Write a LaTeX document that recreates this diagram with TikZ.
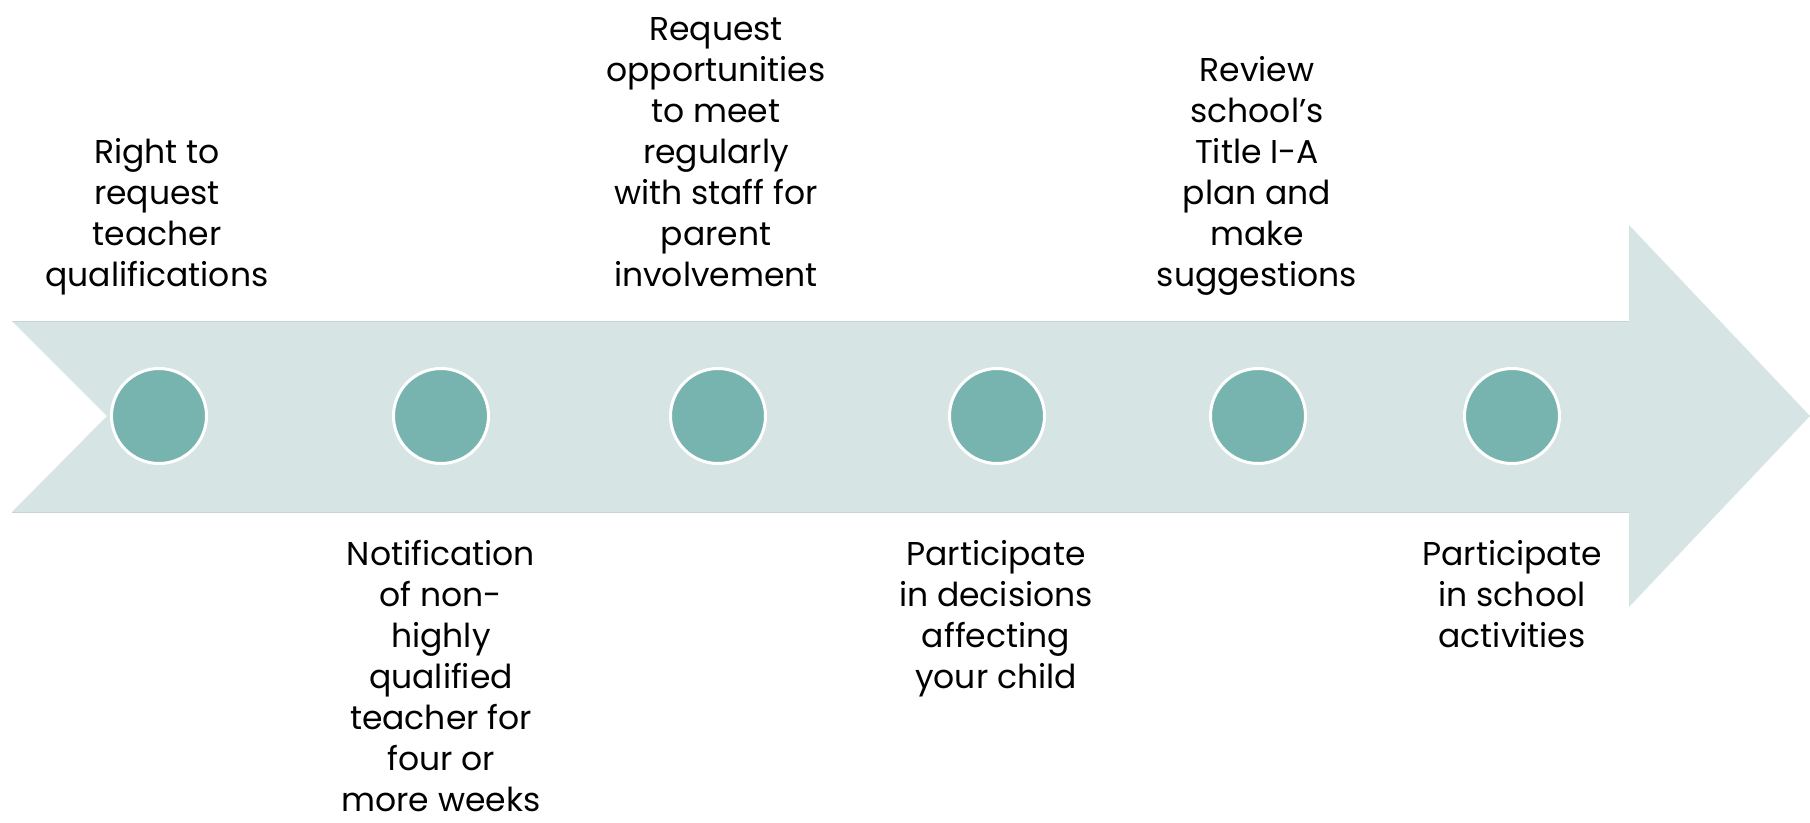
\documentclass[tikz,border=0pt]{standalone}
\usepackage{fontspec}
\setmainfont{Poppins}
\definecolor{bandfill}{RGB}{215,228,228}
\definecolor{bandline}{RGB}{200,212,212}
\definecolor{dotfill}{RGB}{120,180,175}

\begin{document}
\begin{tikzpicture}[x=1pt,y=-1pt]
	\tikzstyle{dot} = [circle, fill=dotfill, draw=white, line width=3pt, minimum size=95pt, inner sep=0pt]
	\tikzstyle{label} = [align=center, inner sep=0pt, text depth=0pt, font=\fontsize{33}{41}\selectfont]
	\tikzstyle{above_label} = [label, anchor=south]
	\tikzstyle{below_label} = [label, anchor=north]

	\useasboundingbox (0,0) rectangle (1810,822);

%----------arrow band------------------------------
	\fill[bandfill] (12,321) -- (1629,321) -- (1629,225) -- (1810,416)
		-- (1629,607) -- (1629,512) -- (12,512) -- (107,416) -- cycle;
	\draw[bandline, line width=1pt] (12,321) -- (1629,321);
	\draw[bandline, line width=1pt] (12,512) -- (1629,512);

%----------dots------------------------------
	\node[dot] (c1) at (159,416) {};
	\node[dot] (c2) at (441,416) {};
	\node[dot] (c3) at (718,416) {};
	\node[dot] (c4) at (997,416) {};
	\node[dot] (c5) at (1258,416) {};
	\node[dot] (c6) at (1512,416) {};

%----------texts above------------------------------
	\node[above_label] (t1) at (157,287) {Right to\\request\\teacher\\qualifications};
	\node[above_label] (t3) at (716,287) {Request\\opportunities\\to meet\\regularly\\with staff for\\parent\\involvement};
	\node[above_label] (t5) at (1257,287) {Review\\school’s\\Title I-A\\plan and\\make\\suggestions};

%----------texts below------------------------------
	\node[below_label] (t2) at (441,540) {Notification\\of non-\\highly\\qualified\\teacher for\\four or\\more weeks};
	\node[below_label] (t4) at (996,540) {Participate\\in decisions\\affecting\\your child};
	\node[below_label] (t6) at (1512,540) {Participate\\in school\\activities};
\end{tikzpicture}
\end{document}
